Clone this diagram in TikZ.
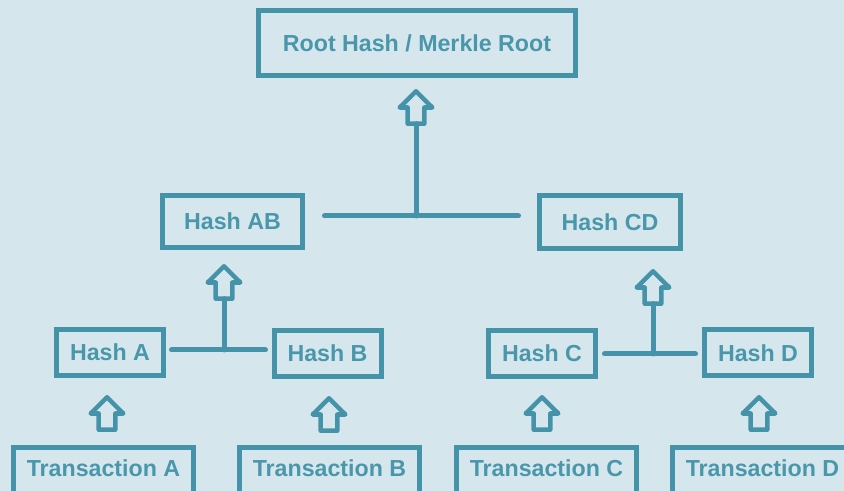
\documentclass[tikz,border=0pt]{standalone}
\usepackage{fontspec}
\setmainfont{Liberation Sans}
\usetikzlibrary{calc}
\definecolor{bgc}{HTML}{D5E7EC}
\definecolor{mk}{HTML}{4593A9}
\definecolor{mktext}{HTML}{4A97AC}
\begin{document}
\begin{tikzpicture}[x=0.75pt,y=-0.75pt,
  box/.style={draw=mk, line width=3.75pt, inner sep=0pt, outer sep=0pt, text=mktext,
    font=\bfseries\fontsize{17.4}{20}\selectfont},
  hashbox/.style={box, minimum width=80.25pt, minimum height=34.5pt},
  txbox/.style={box, minimum width=135pt, minimum height=35.25pt, text height=12.5pt, text depth=4.5pt},
  conn/.style={draw=mk, line width=3.75pt, line cap=round},
  arrline/.style={draw=mk, line width=3.4pt, line join=round},
  uparrow/.pic={
    \draw[arrline] (0,2.3) -- (16.3,18.5) -- (8.3,18.5) -- (8.3,34.7) -- (-8.3,34.7) -- (-8.3,18.5) -- (-16.3,18.5) -- cycle;
    \coordinate (-base) at (0,34.7);
  }
]
\fill[bgc] (0,0) rectangle (844,491);
\useasboundingbox (0,0) rectangle (844,491);
\clip (0,0) rectangle (844,491);

% nodes
\node[box, minimum width=237.75pt, minimum height=48.75pt] (root) at (417,43) {Root Hash / Merkle Root};
\node[box, minimum width=105pt, minimum height=39pt] (hab) at (232.5,221.5) {Hash AB};
\node[box, minimum width=105.75pt, minimum height=39.75pt] (hcd) at (610,222) {Hash CD};
\node[hashbox] (ha) at (110,352.5) {Hash A};
\node[hashbox] (hb) at (327.5,353.5) {Hash B};
\node[hashbox] (hc) at (542,353.5) {Hash C};
\node[hashbox] (hd) at (758,353) {Hash D};
\node[txbox] (ta) at (103.5,471) {Transaction A};
\node[txbox] (tb) at (329.5,471) {Transaction B};
\node[txbox] (tc) at (546.5,471) {Transaction C};
\node[txbox] (td) at (762.5,471) {Transaction D};

% hollow arrows
\pic (arR) at (416,89) {uparrow};
\pic (arAB) at (224,264) {uparrow};
\pic (arCD) at (653,269) {uparrow};
\pic (arA) at (107,395) {uparrow};
\pic (arB) at (329,396) {uparrow};
\pic (arC) at (542,395) {uparrow};
\pic (arD) at (759,395) {uparrow};

% connectors
\draw[conn] ($(hab.east)+(22,-5.5)$) coordinate (l1) -- ($(hcd.west)+(-21,-6)$);
\draw[conn] (arR-base) -- (arR-base |- l1);
\draw[conn] ($(ha.east)+(8,-2.5)$) coordinate (l2) -- ($(hb.west)+(-8.5,-3.5)$);
\draw[conn] (arAB-base) -- (arAB-base |- l2);
\draw[conn] ($(hc.east)+(9,0.5)$) coordinate (l3) -- ($(hd.west)+(-9,1)$);
\draw[conn] (arCD-base) -- (arCD-base |- l3);
\end{tikzpicture}
\end{document}
